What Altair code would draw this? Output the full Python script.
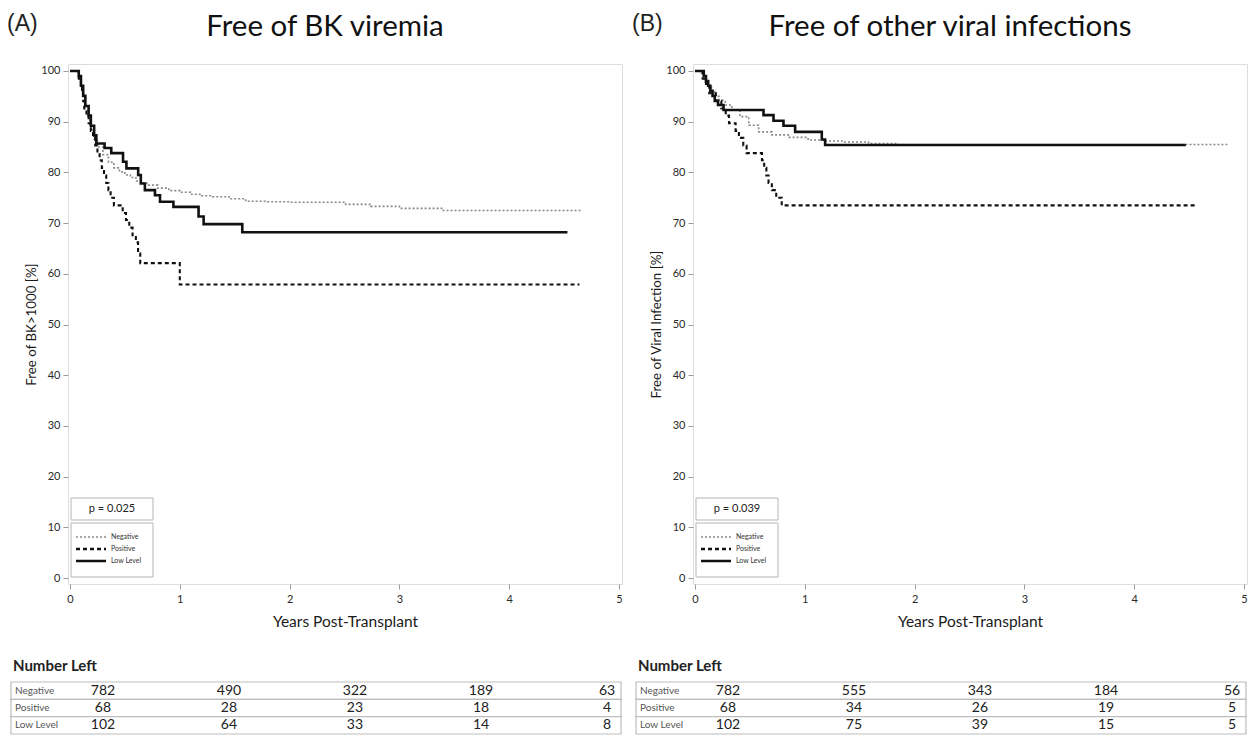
import altair as alt
import pandas as pd

FONT = "Lato"
groups = ["Negative", "Positive", "Low Level"]
year_ticks = [0, 1, 2, 3, 4, 5]
pct_ticks = list(range(0, 101, 10))

# ---------------- Panel A: Free of BK viremia ----------------
a_neg_t = [0, 0.08, 0.10, 0.12, 0.14, 0.16, 0.18, 0.20, 0.22, 0.25, 0.30, 0.35, 0.40, 0.45,
           0.50, 0.55, 0.60, 0.65, 0.70, 0.80, 0.90, 1.00, 1.10, 1.20, 1.30, 1.45, 1.60, 1.80,
           2.00, 2.51, 2.74, 3.00, 3.40, 4.66]
a_neg_s = [100, 99, 97, 95, 93, 91, 89.5, 88, 86.5, 85, 83.5, 82, 80.9, 80.1,
           79.5, 79, 78.3, 77.9, 77.5, 76.9, 76.4, 76.1, 75.7, 75.4, 75.2, 74.8, 74.3, 74.2,
           74.1, 73.7, 73.3, 72.9, 72.5, 72.5]
a_pos_t = [0, 0.08, 0.10, 0.11, 0.12, 0.13, 0.15, 0.17, 0.19, 0.21, 0.23, 0.25, 0.27, 0.29,
           0.31, 0.33, 0.35, 0.37, 0.40, 0.48, 0.51, 0.54, 0.57, 0.60, 0.62, 0.64, 1.00, 4.64]
a_pos_s = [100, 98.5, 97.1, 95.6, 94.1, 92.6, 91.2, 89.7, 88.2, 86.8, 85.3, 83.8, 82.4, 80.9,
           79.4, 77.9, 76.5, 75.0, 73.5, 72.0, 70.6, 69.1, 67.6, 66.2, 64.0, 62.1, 57.9, 57.9]
a_low_t = [0, 0.08, 0.10, 0.12, 0.14, 0.17, 0.19, 0.22, 0.24, 0.315, 0.376, 0.483, 0.514,
           0.621, 0.645, 0.682, 0.774, 0.820, 0.942, 1.171, 1.217, 1.569, 4.53]
a_low_s = [100, 99.0, 97.1, 95.1, 93.1, 91.2, 89.2, 87.3, 85.7, 84.8, 83.8, 82.1, 80.8,
           79.5, 77.8, 76.5, 75.5, 74.2, 73.2, 71.3, 69.8, 68.2, 68.2]
a_counts = {"Negative": [782, 490, 322, 189, 63],
            "Positive": [68, 28, 23, 18, 4],
            "Low Level": [102, 64, 33, 14, 8]}

# ---------------- Panel B: Free of other viral infections ----------------
b_neg_t = [0, 0.06, 0.08, 0.10, 0.12, 0.15, 0.18, 0.22, 0.276, 0.336, 0.41, 0.49, 0.58,
           0.70, 0.85, 1.03, 1.18, 1.34, 1.58, 1.85, 4.86]
b_neg_s = [100, 99.5, 99, 98, 97, 96, 95, 94.2, 93.3, 92.3, 91.0, 89.3, 88.0,
           87.4, 86.9, 86.4, 86.2, 86.0, 85.7, 85.5, 85.5]
b_pos_t = [0, 0.07, 0.10, 0.13, 0.19, 0.24, 0.28, 0.31, 0.37, 0.40, 0.44, 0.47, 0.61,
           0.63, 0.65, 0.67, 0.70, 0.74, 0.79, 4.56]
b_pos_s = [100, 98.5, 97.1, 95.6, 94.1, 92.6, 91.2, 89.7, 88.2, 86.8, 85.3, 83.8, 82.4,
           80.9, 79.4, 77.9, 76.5, 75.0, 73.5, 73.5]
b_low_t = [0, 0.08, 0.10, 0.12, 0.14, 0.16, 0.18, 0.21, 0.26, 0.624, 0.715, 0.806, 0.912,
           1.155, 1.185, 4.47]
b_low_s = [100, 99.0, 98.0, 97.1, 96.1, 95.1, 94.1, 93.3, 92.3, 91.3, 90.2, 89.2, 88.0,
           86.5, 85.4, 85.4]
b_counts = {"Negative": [782, 555, 343, 184, 56],
            "Positive": [68, 34, 26, 19, 5],
            "Low Level": [102, 75, 39, 15, 5]}

line_colors = ["#8a8a8a", "#111111", "#111111"]
line_dashes = [[2, 2], [4, 3], [1, 0]]
line_widths = [1.6, 2.6, 2.3]


def panel(tag, title, ytitle, pval, series, counts):
    rows = []
    for g, (ts, ss) in zip(groups, series):
        for t, s in zip(ts, ss):
            rows.append({"group": g, "t": t, "s": s})
    df = pd.DataFrame(rows)

    axis_common = dict(domain=False, grid=False, tickColor="#9a9a9a", tickSize=5,
                       labelFont=FONT, labelFontSize=11, labelColor="#2a2a2a",
                       titleFont=FONT, titleFontWeight="normal", titleColor="#1a1a1a")
    curves = alt.Chart(df).mark_line(interpolate="step-after").encode(
        x=alt.X("t:Q", scale=alt.Scale(domain=[-0.018, 5.027], nice=False, zero=False),
                axis=alt.Axis(values=year_ticks, title="Years Post-Transplant",
                              titleFontSize=15.5, titlePadding=10, labelPadding=4, **axis_common)),
        y=alt.Y("s:Q", scale=alt.Scale(domain=[-1.18, 101.38], nice=False, zero=False),
                axis=alt.Axis(values=pct_ticks, title=ytitle, titleFontSize=13.3,
                              titlePadding=2, labelPadding=3, **axis_common)),
        color=alt.Color("group:N", scale=alt.Scale(domain=groups, range=line_colors), legend=None),
        strokeDash=alt.StrokeDash("group:N", scale=alt.Scale(domain=groups, range=line_dashes), legend=None),
        strokeWidth=alt.StrokeWidth("group:N", scale=alt.Scale(domain=groups, range=line_widths), legend=None),
    )

    one = pd.DataFrame({"k": [0]})
    layers = [curves]
    # p-value box
    layers.append(alt.Chart(one).mark_rect(fill="white", stroke="#b5b5b5", strokeWidth=1).encode(
        x=alt.value(3), x2=alt.value(85), y=alt.value(434), y2=alt.value(456)))
    layers.append(alt.Chart(pd.DataFrame({"label": [pval]})).mark_text(
        font=FONT, fontSize=11, color="#222", align="center", baseline="middle").encode(
        x=alt.value(44), y=alt.value(445), text="label:N"))
    # legend box
    layers.append(alt.Chart(one).mark_rect(fill="white", stroke="#b5b5b5", strokeWidth=1).encode(
        x=alt.value(3), x2=alt.value(85), y=alt.value(459), y2=alt.value(513)))
    for i, g in enumerate(groups):
        gy = 473 + 12 * i
        layers.append(alt.Chart(pd.DataFrame({"group": [g]})).mark_rule(
            color=line_colors[i], strokeDash=line_dashes[i], strokeWidth=line_widths[i]).encode(
            x=alt.value(8), x2=alt.value(38), y=alt.value(gy)))
        layers.append(alt.Chart(pd.DataFrame({"group": [g]})).mark_text(
            font=FONT, fontSize=7, color="#333", align="left", baseline="middle").encode(
            x=alt.value(43), y=alt.value(gy), text="group:N"))
    # panel tag and panel title
    layers.append(alt.Chart(pd.DataFrame({"label": [tag]})).mark_text(
        font="Liberation Sans", fontSize=23, color="#222", align="left", baseline="alphabetic").encode(
        x=alt.value(-61), y=alt.value(-33), text="label:N"))
    layers.append(alt.Chart(pd.DataFrame({"label": [title]})).mark_text(
        font=FONT, fontSize=29.5, color="#111", align="center", baseline="alphabetic").encode(
        x=alt.value(257), y=alt.value(-28), text="label:N"))
    plot = alt.layer(*layers)

    # Number-left table
    trows = []
    for g in groups:
        for i, n in enumerate(counts[g]):
            trows.append({"row": g, "col": i, "n": n})
    tdf = pd.DataFrame(trows)
    ldf = pd.DataFrame({"row": groups})
    yrow = alt.Y("row:N", scale=alt.Scale(domain=groups, range=[618, 670],
                                          paddingInner=0, paddingOuter=0), axis=None)
    t_rect = alt.Chart(ldf).mark_rect(fill="white", stroke="#bdbdbd", strokeWidth=1.2).encode(
        x=alt.value(-57), x2=alt.value(553), y=yrow)
    t_lab = alt.Chart(ldf).mark_text(font=FONT, fontSize=10, color="#555", align="left",
                                     baseline="middle").encode(
        x=alt.value(-53), y=yrow, text="row:N")
    t_num = alt.Chart(tdf).mark_text(font=FONT, fontSize=14, color="#222", align="center",
                                     baseline="middle").encode(
        x=alt.X("col:Q", scale=alt.Scale(domain=[-0.730, 4.111], range=[-57, 553],
                                         nice=False, zero=False), axis=None),
        y=yrow, text="n:Q")
    t_head = alt.Chart(pd.DataFrame({"label": ["Number Left"]})).mark_text(
        font=FONT, fontSize=15, fontWeight="bold", color="#222", align="left",
        baseline="alphabetic").encode(x=alt.value(-55), y=alt.value(607), text="label:N")
    table = alt.layer(t_rect, t_lab, t_num, t_head)

    return alt.layer(plot, table).resolve_scale(x="independent", y="independent").properties(
        width=554, height=520)


pA = panel("(A)", "Free of BK viremia", "Free of BK>1000 [%]", "p = 0.025",
           [(a_neg_t, a_neg_s), (a_pos_t, a_pos_s), (a_low_t, a_low_s)], a_counts)
pB = panel("(B)", "Free of other viral infections", "Free of Viral Infection [%]", "p = 0.039",
           [(b_neg_t, b_neg_s), (b_pos_t, b_pos_s), (b_low_t, b_low_s)], b_counts)

chart = alt.hconcat(pA, pB, spacing=8).properties(
    padding={"left": 6, "top": 11, "right": 0, "bottom": 0}
).configure_view(stroke="#c8c8c8", strokeWidth=1.5).configure(background="white")

chart.save("out.html", embed_options={"renderer": "svg", "actions": False})
